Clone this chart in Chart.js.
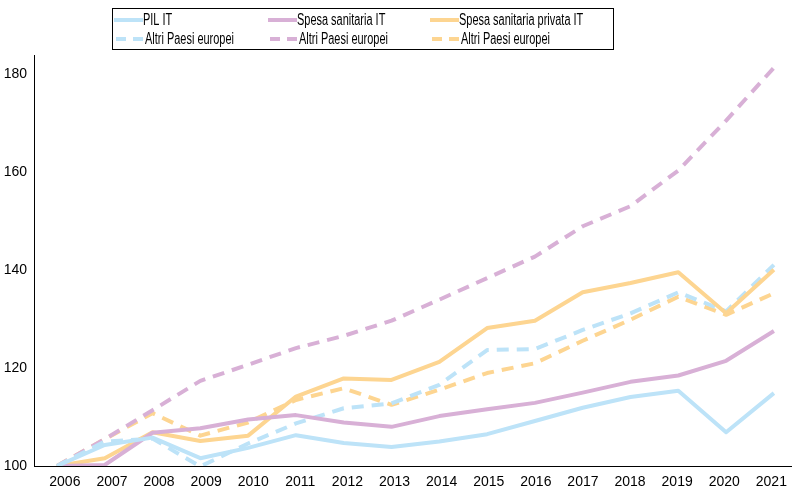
<!DOCTYPE html>
<html>
<head>
<meta charset="utf-8">
<script src="https://cdn.jsdelivr.net/npm/chart.js@4.4.1/dist/chart.umd.min.js"></script>
<style>
  html, body { margin: 0; background: #fff; }
  #wrap { width: 795px; height: 493px; }
</style>
</head>
<body>
<div id="wrap"><canvas id="c"></canvas></div>
<script>
// === DATA (indice 2006 = 100) ===
const YEARS = [2006, 2007, 2008, 2009, 2010, 2011, 2012, 2013, 2014, 2015, 2016, 2017, 2018, 2019, 2020, 2021];
const Y_TICKS = [100, 120, 140, 160, 180];

const PIL_IT        = [100, 104.3, 105.8, 101.6, 103.7, 106.3, 104.7, 103.9, 105.0, 106.5, 109.2, 111.9, 114.1, 115.4, 106.9, 114.9];
const SPESA_IT      = [100, 100.2, 106.8, 107.7, 109.5, 110.4, 108.9, 108.0, 110.2, 111.6, 112.9, 115.0, 117.2, 118.5, 121.5, 127.6];
const PRIVATA_IT    = [100, 101.6, 106.9, 105.1, 106.2, 114.2, 117.9, 117.6, 121.3, 128.2, 129.7, 135.5, 137.4, 139.6, 131.2, 140.1];
const PIL_EU        = [100, 105.0, 105.6, 99.9, 104.6, 108.7, 111.8, 112.8, 116.6, 123.7, 123.9, 127.8, 131.2, 135.5, 131.6, 141.1];
const SPESA_EU      = [100, 105.5, 111.4, 117.4, 120.7, 124.1, 126.6, 129.7, 134.0, 138.4, 142.8, 149.0, 153.1, 160.4, 170.6, 181.4];
const PRIVATA_EU    = [100, 105.5, 110.8, 106.2, 108.9, 113.5, 115.9, 112.5, 115.6, 119.0, 121.0, 125.6, 129.9, 134.6, 130.9, 135.3];

const LABELS = ['PIL IT', 'Spesa sanitaria IT', 'Spesa sanitaria privata IT',
                'Altri Paesi europei', 'Altri Paesi europei', 'Altri Paesi europei'];

// Palette
const BLUE   = '#bde3f8';
const PINK   = '#d8b0d6';
const ORANGE = '#fdd591';
const FONT   = '"Liberation Sans", Arial, sans-serif';

// === UTILS ===
function pts(arr){ return YEARS.map((y, i) => ({ x: y, y: arr[i] })); }
function ds(label, arr, color, dashed){
  return {
    label,
    data: pts(arr),
    borderColor: color,
    backgroundColor: color,
    borderWidth: 4,
    borderDash: dashed ? [12, 8] : [],
    borderJoinStyle: 'round',
    pointRadius: 0,
    tension: 0,
    xAxisID: 'xd',
    yAxisID: 'y'
  };
}

// Legenda a griglia 3x2 dentro un riquadro (testo compresso, font condensato)
const gridLegend = {
  id: 'gridLegend',
  afterDraw(chart){
    const { ctx } = chart;
    const colX = [114, 268, 430];
    const rowY = [20, 39];
    ctx.save();
    ctx.strokeStyle = '#000';
    ctx.lineWidth = 1;
    ctx.strokeRect(112.5, 8.5, 501, 41);

    chart.data.datasets.forEach((d, i) => {
      const sx = colX[i % 3];
      const sy = rowY[Math.floor(i / 3)];
      ctx.strokeStyle = d.borderColor;
      ctx.lineWidth = 4;
      ctx.lineCap = 'butt';
      ctx.beginPath();
      if (d.borderDash.length){
        ctx.moveTo(sx + 2, sy);  ctx.lineTo(sx + 12, sy);
        ctx.moveTo(sx + 19, sy); ctx.lineTo(sx + 29, sy);
      } else {
        ctx.moveTo(sx, sy); ctx.lineTo(sx + 29, sy);
      }
      ctx.stroke();

      ctx.save();
      ctx.translate(sx + (d.borderDash.length ? 31 : 29), sy + 4.5);
      ctx.scale(0.685, 1);
      ctx.fillStyle = '#000';
      ctx.font = '16px ' + FONT;
      ctx.textBaseline = 'alphabetic';
      ctx.textAlign = 'left';
      ctx.fillText(d.label, 0, 0);
      ctx.restore();
    });
    ctx.restore();
  }
};

// === RENDER ===
new Chart(document.getElementById('c').getContext('2d'), {
  type: 'line',
  data: {
    datasets: [
      ds(LABELS[0], PIL_IT, BLUE, false),
      ds(LABELS[1], SPESA_IT, PINK, false),
      ds(LABELS[2], PRIVATA_IT, ORANGE, false),
      ds(LABELS[3], PIL_EU, BLUE, true),
      ds(LABELS[4], SPESA_EU, PINK, true),
      ds(LABELS[5], PRIVATA_EU, ORANGE, true)
    ]
  },
  options: {
    responsive: true,
    maintainAspectRatio: false,
    animation: false,
    layout: { padding: { top: 55, left: 0, right: 0, bottom: 0 } },
    plugins: {
      legend: { display: false },
      tooltip: { enabled: false }
    },
    scales: {
      // asse dei dati (nascosto)
      xd: {
        type: 'linear',
        display: false,
        min: 2005.52,
        max: 2021.375
      },
      // asse delle etichette anni
      x: {
        type: 'linear',
        position: 'bottom',
        min: 2005.345,
        max: 2021.435,
        grid: { display: false, drawTicks: false },
        border: { display: true, color: '#000', width: 1 },
        afterBuildTicks: s => { s.ticks = YEARS.map(v => ({ value: v })); },
        afterFit: s => { s.height = 27; },
        ticks: {
          autoSkip: false,
          maxRotation: 0,
          padding: 8,
          color: '#000',
          font: { family: FONT, size: 14 },
          callback: v => String(v)
        }
      },
      y: {
        type: 'linear',
        min: 100,
        max: 184,
        grid: { display: false, drawTicks: false },
        border: { display: true, color: '#000', width: 1 },
        afterBuildTicks: s => { s.ticks = Y_TICKS.map(v => ({ value: v })); },
        afterFit: s => { s.width = 34; },
        ticks: {
          padding: 7,
          color: '#000',
          font: { family: FONT, size: 14 },
          callback: v => String(v)
        }
      }
    }
  },
  plugins: [gridLegend]
});
</script>
</body>
</html>
